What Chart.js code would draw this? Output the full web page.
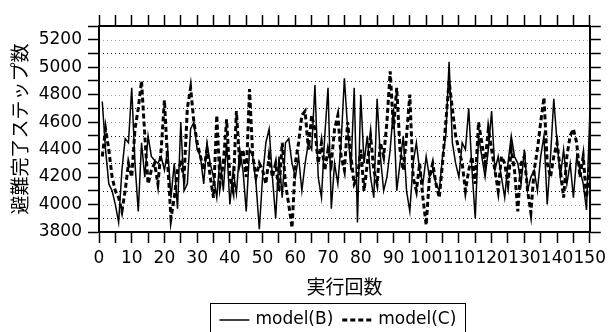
<!DOCTYPE html>
<html>
<head>
<meta charset="utf-8">
<script src="https://cdn.jsdelivr.net/npm/chart.js@4/dist/chart.umd.min.js"></script>
<style>
    html, body { margin: 0; padding: 0; background: #ffffff; }
    #wrap { width: 611px; height: 332px; }
</style>
</head>
<body>
<div id="wrap"><canvas id="chart" width="611" height="332"></canvas></div>
<script>
// run number 1..150 (x axis categories)
const runs = Array.from( { length: 150 }, ( _, i ) => i + 1 );

const modelB = [
    4750, 4400, 4150, 4100, 4000, 3870, 4250, 4480, 4450, 4850,
    4300, 3950, 4450, 4200, 4500, 4350, 4320, 4300, 4350, 4250,
    4400, 4050, 4300, 3970, 4600, 4100, 4150, 4550, 4600, 4400,
    4350, 4150, 4450, 4300, 4200, 4050, 4350, 4100, 4450, 4000,
    4250, 4080, 4400, 4250, 3950, 4400, 4350, 4150, 3820, 4200,
    4450, 4550, 4200, 3900, 4350, 4050, 4450, 4480, 4300, 4200,
    4350, 4100, 4300, 4450, 4400, 4870, 4200, 4050, 4500, 4850,
    3970, 4300, 4150, 4450, 4920, 4550, 4250, 4850, 3870, 4800,
    4300, 4500, 4200, 4050, 4770, 4350, 4100, 4200, 4400, 4700,
    4100, 4300, 4500, 4100, 3950, 4300, 4450, 4250, 4150, 4350,
    4200, 4250, 4150, 4100, 4350, 4500, 5040, 4450, 4300, 4200,
    4450, 4400, 4700, 4250, 3900, 4500, 4350, 4200, 4400, 4680,
    4250, 4350, 4200, 4050, 4300, 4500, 4350, 4300, 4150, 4400,
    4100, 4200, 4250, 4100, 4350, 4500, 4000, 4350, 4770, 4450,
    4200, 4400, 4150, 4300, 4050, 4350, 4250, 4150, 3960, 4650
];

const modelC = [
    4350, 4550, 4400, 4200, 4100, 4050, 3950, 4100, 4300, 4200,
    4550, 4700, 4900, 4500, 4150, 4250, 4300, 4150, 4400, 4760,
    4300, 3900, 4050, 4250, 4300, 4200, 4700, 4850, 4600, 4450,
    4350, 4250, 4400, 4200, 4050, 4650, 4150, 4300, 4620, 4200,
    4100, 4680, 4300, 4400, 4200, 4840, 4350, 4200, 4300, 4250,
    4150, 4350, 4200, 4300, 4100, 4450, 4150, 4000, 3830, 4300,
    4450, 4650, 4680, 4400, 4650, 4550, 4300, 4450, 4250, 4400,
    4300, 4550, 4650, 4350, 4250, 4600, 4350, 4150, 4200, 4400,
    4100, 4300, 4500, 4250, 4150, 4450, 4350, 4600, 4970, 4550,
    4850, 4400, 4250, 4500, 4800, 4200, 4100, 4300, 4050, 3850,
    4200, 4300, 4150, 4050, 4300, 4600, 4900, 4700, 4500, 4400,
    4300, 4100, 4250, 4350, 4150, 4600, 4450, 4300, 4550, 4400,
    4250, 4100, 4350, 4300, 4150, 4400, 4250, 3950, 4300, 4350,
    4100, 3940, 4250, 4400, 4600, 4780, 4300, 4200, 4350, 4450,
    4250, 4050, 4350, 4500, 4550, 4450, 4200, 4350, 4050, 4300
];

const seriesNames = [ 'model(B)', 'model(C)' ];
const xTitle = '実行回数';
const yTitle = '避難完了ステップ数';

const Fonts = {
    family: '"DejaVu Sans", "Noto Sans CJK JP", sans-serif',
    title: '"Noto Sans CJK JP", "DejaVu Sans", sans-serif'
};

const toPoints = values => values.map( ( v, i ) => ( { x: runs[ i ], y: v } ) );

// dotted horizontal grid inside the plot
const dottedGrid = {
    id: 'dottedGrid',
    beforeDatasetsDraw( chart ) {
        const
            { ctx, chartArea } = chart,
            y = chart.scales.y;
        ctx.save();
        ctx.lineWidth = 1;
        ctx.setLineDash( [ 1, 3 ] );
        y.ticks.forEach( t => {
            if ( t.value <= y.min || t.value >= y.max ) return;
            const py = Math.round( y.getPixelForValue( t.value ) ) + 0.5;
            ctx.strokeStyle = t.value % 200 === 0 ? '#a8a8a8' : '#111111';
            ctx.beginPath();
            ctx.moveTo( chartArea.left + 4, py );
            ctx.lineTo( chartArea.right - 2, py );
            ctx.stroke();
        } );
        ctx.restore();
    }
};

// boxed legend under the axis title
const boxLegend = {
    id: 'boxLegend',
    afterDraw( chart ) {
        const
            { ctx, chartArea } = chart,
            sets = chart.data.datasets,
            lineLen = 30,
            cy = 320;
        ctx.save();
        ctx.font = '17px ' + Fonts.family;
        ctx.textBaseline = 'middle';
        let total = 0;
        const widths = sets.map( s => ctx.measureText( s.label ).width );
        widths.forEach( w => { total += lineLen + 7 + w; } );
        total += 8;
        let x = ( chartArea.left + chartArea.right ) / 2 - 6 - total / 2;
        ctx.strokeStyle = '#000';
        ctx.lineWidth = 1;
        ctx.strokeRect( Math.round( x - 9 ) + 0.5, 303.5, Math.round( total + 17 ), 40 );
        sets.forEach( ( s, i ) => {
            ctx.strokeStyle = '#000';
            ctx.lineWidth = s.borderWidth;
            ctx.setLineDash( s.borderDash || [] );
            ctx.beginPath();
            ctx.moveTo( x, cy );
            ctx.lineTo( x + lineLen, cy );
            ctx.stroke();
            ctx.setLineDash( [] );
            ctx.fillStyle = '#000';
            ctx.fillText( s.label, x + lineLen + 6, cy );
            x += lineLen + 7 + widths[ i ] + 8;
        } );
        ctx.restore();
    }
};

const tickGrid = {
    display: true,
    drawOnChartArea: false,
    drawTicks: true,
    tickLength: 11,
    tickColor: '#000',
    tickWidth: 1.5
};
const border = { display: true, color: '#000', width: 2 };

new Chart( document.getElementById( 'chart' ).getContext( '2d' ), {
    type: 'line',
    data: {
        datasets: [ {
            label: seriesNames[ 0 ],
            data: toPoints( modelB ),
            borderColor: '#000',
            borderWidth: 1.5,
            pointRadius: 0,
            tension: 0,
            fill: false
        }, {
            label: seriesNames[ 1 ],
            data: toPoints( modelC ),
            borderColor: '#000',
            borderWidth: 3,
            borderDash: [ 5, 3 ],
            pointRadius: 0,
            tension: 0,
            fill: false
        } ]
    },
    options: {
        responsive: false,
        animation: false,
        layout: { padding: { left: 0, right: 0, top: 0, bottom: 32 } },
        plugins: {
            legend: { display: false },
            tooltip: { enabled: false }
        },
        scales: {
            x: {
                type: 'linear',
                position: 'bottom',
                min: 0,
                max: 150,
                grid: tickGrid,
                border: border,
                ticks: {
                    stepSize: 5,
                    autoSkip: false,
                    maxRotation: 0,
                    padding: 5,
                    color: '#000',
                    font: { family: Fonts.family, size: 17 },
                    callback: v => v % 10 === 0 ? String( v ) : ''
                },
                title: {
                    display: true,
                    text: xTitle,
                    color: '#000',
                    font: { family: Fonts.title, size: 19 },
                    padding: { top: 0, bottom: 2 }
                },
                afterFit( s ) { s.height = 68; }
            },
            x2: {
                type: 'linear',
                position: 'top',
                min: 0,
                max: 150,
                grid: tickGrid,
                border: border,
                ticks: { display: false, stepSize: 5, autoSkip: false },
                afterFit( s ) { s.height = 26; }
            },
            y: {
                position: 'left',
                min: 3800,
                max: 5300,
                grid: tickGrid,
                border: border,
                ticks: {
                    stepSize: 100,
                    autoSkip: false,
                    padding: 6,
                    color: '#000',
                    font: { family: Fonts.family, size: 17 },
                    callback: v => v % 200 === 0 ? String( v ) : ''
                },
                title: {
                    display: true,
                    text: yTitle,
                    color: '#000',
                    font: { family: Fonts.title, size: 19 },
                    padding: { top: 8, bottom: 0 }
                },
                afterFit( s ) { s.width = 99; }
            },
            y2: {
                position: 'right',
                min: 3800,
                max: 5300,
                grid: tickGrid,
                border: border,
                ticks: { display: false, stepSize: 100, autoSkip: false },
                afterFit( s ) { s.width = 16; }
            }
        }
    },
    plugins: [ dottedGrid, boxLegend ]
} );
</script>
</body>
</html>
